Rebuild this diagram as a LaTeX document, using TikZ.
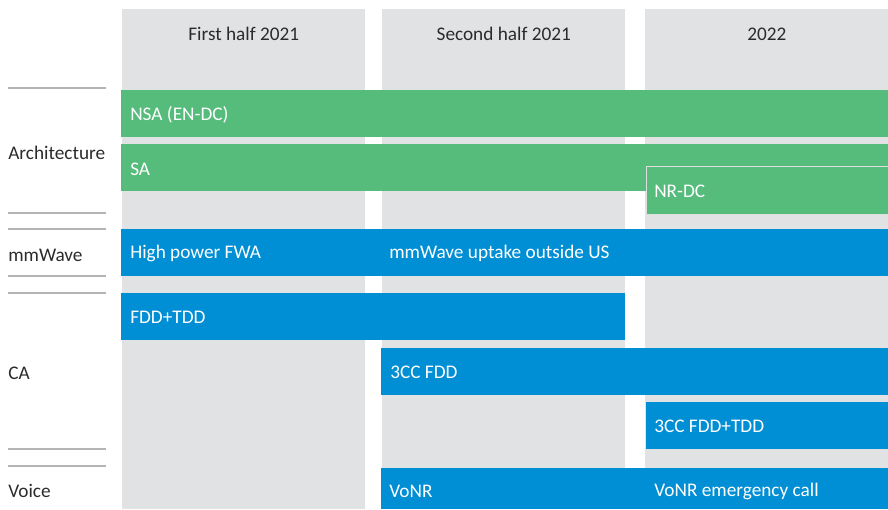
\documentclass[tikz,border=0pt]{standalone}
\usepackage{fontspec}
\setmainfont{Carlito}
\usepackage{tikz}
\usetikzlibrary{positioning, calc}
\usepackage{xcolor}

\definecolor{colgray}{HTML}{E1E2E4}
\definecolor{archgreen}{HTML}{56BC7B}
\definecolor{ranblue}{HTML}{008ED4}
\definecolor{rulegray}{HTML}{B4B4B4}
\definecolor{inkgray}{HTML}{2B2B2B}
\newcommand{\px}{0.025cm}

\begin{document}
\begin{tikzpicture}[
    x=0.025cm, y=-0.025cm,
    column/.style={rectangle, fill=colgray, anchor=north west, inner sep=0pt, minimum width=243*\px, minimum height=500*\px},
    head/.style={text=inkgray, font=\fontsize{13.7}{16}\selectfont},
    bar/.style={rectangle, anchor=north west, inner sep=0pt, minimum height=47*\px},
    greenbar/.style={bar, fill=archgreen},
    bluebar/.style={bar, fill=ranblue},
    bartext/.style={anchor=west, text=white, inner sep=0pt, font=\fontsize{13.7}{16}\selectfont},
    rowlabel/.style={anchor=west, text=inkgray, inner sep=0pt, font=\fontsize{13.7}{16}\selectfont},
    rule/.style={rulegray, line width=0.8pt}
]
\useasboundingbox (0,0) rectangle (888,509);

% Time columns
\node[column] (col1) at (122,9) {};
\node[column] (col2) at (382,9) {};
\node[column] (col3) at (645,9) {};

\node[head] (h1) at ([yshift=-25*\px]col1.north) {First half 2021};
\node[head] (h2) at ([yshift=-25*\px]col2.north) {Second half 2021};
\node[head] (h3) at ([yshift=-25*\px]col3.north) {2022};

% Row labels and rules
\foreach \y in {88,213,229,276,293,449,466}
    \draw[rule] (8,\y) -- (106,\y);
\node[rowlabel] (arch) at (8,153) {Architecture};
\node[rowlabel] (mmw) at (8,255) {mmWave};
\node[rowlabel] (ca) at (8,373) {CA};
\node[rowlabel] (voice) at (8,491) {Voice};

% Architecture
\node[greenbar, minimum width=767*\px] (nsa) at (121,90) {};
\node[greenbar, minimum width=767*\px] (sa) at (121,144) {};
\node[greenbar, minimum width=242*\px, minimum height=48*\px, draw=white!75!gray, line width=0.6pt] (nrdc) at (646,166) {};
\node[bartext] (nsa-t) at ([xshift=9*\px, yshift=-1*\px]nsa.west) {NSA (EN-DC)};
\node[bartext] (sa-t) at ([xshift=9*\px, yshift=-2*\px]sa.west) {SA};
\node[bartext] (nrdc-t) at ([xshift=8*\px, yshift=-1*\px]nrdc.west) {NR-DC};

% mmWave
\node[bluebar, minimum width=767*\px] (fwa) at (121,229) {};
\node[bartext] (fwa-t) at ([xshift=9*\px, yshift=-1*\px]fwa.west) {High power FWA};
\node[bartext] (us-t) at ([xshift=7*\px, yshift=-1*\px]fwa.west -| col2.west) {mmWave uptake outside US};

% CA
\node[bluebar, minimum width=504*\px] (fdd) at (121,293) {};
\node[bluebar, minimum width=507*\px] (cc3) at (381,348) {};
\node[bluebar, minimum width=242*\px] (cc3tdd) at (646,402) {};
\node[bartext] (fdd-t) at ([xshift=9*\px, yshift=-1*\px]fdd.west) {FDD+TDD};
\node[bartext] (cc3-t) at ([xshift=9*\px, yshift=-1*\px]cc3.west) {3CC FDD};
\node[bartext] (cc3tdd-t) at ([xshift=8*\px, yshift=-1*\px]cc3tdd.west) {3CC FDD+TDD};

% Voice
\node[bluebar, minimum width=507*\px, minimum height=41*\px] (vonr) at (381,468) {};
\node[bartext] (vonr-t) at ([xshift=8*\px, yshift=-3*\px]vonr.west) {VoNR};
\node[bartext] (emerg-t) at ([xshift=9*\px, yshift=-3*\px]vonr.west -| col3.west) {VoNR emergency call};
\end{tikzpicture}
\end{document}
